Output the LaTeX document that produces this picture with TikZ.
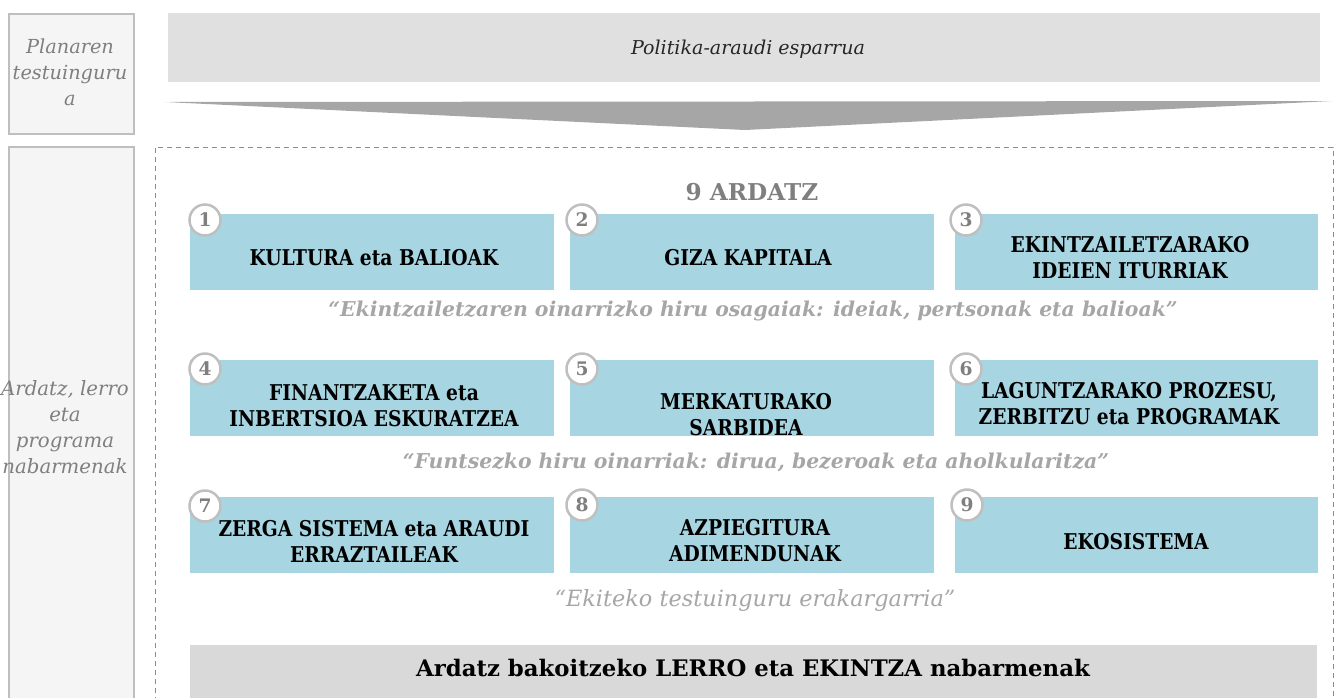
\documentclass[tikz,border=0pt]{standalone}
\usepackage{fontspec}
\setmainfont{DejaVu Serif}[FakeStretch=0.86]
\newfontfamily\plainserif{DejaVu Serif}
\usetikzlibrary{shapes.geometric}
\definecolor{ctxfill}{HTML}{F5F5F5}
\definecolor{ctxline}{HTML}{BFBFBF}
\definecolor{banner}{HTML}{E0E0E0}
\definecolor{chev}{HTML}{A6A6A6}
\definecolor{axis}{HTML}{A7D5E1}
\definecolor{frameline}{HTML}{8C8C8C}
\definecolor{quote}{HTML}{A6A6A6}
\definecolor{bottom}{HTML}{D9D9D9}
\definecolor{numtxt}{HTML}{7F7F7F}
\newdimen\pxu \pxu=0.75pt
\tikzset{
  ctxbox/.style={draw=ctxline, line width=2.2\pxu, fill=ctxfill, anchor=north west, inner sep=0pt},
  axisbox/.style={fill=axis, anchor=north west, inner sep=0pt, minimum width=364*\pxu, minimum height=76*\pxu},
  axistxt/.style={font=\bfseries\fontsize{16.3}{19.5}\selectfont, align=center, text=black, inner sep=0pt},
  numc/.style={circle, draw=ctxline, line width=2.5\pxu, fill=white, minimum size=31*\pxu, inner sep=0pt, text=numtxt, font=\plainserif\bfseries\fontsize{14}{14}\selectfont},
  quotetxt/.style={font=\plainserif\bfseries\itshape\fontsize{15.3}{18}\selectfont, text=quote, inner sep=0pt},
  ctxtxt/.style={font=\plainserif\itshape\fontsize{14.5}{19.5}\selectfont, text=numtxt, align=center, inner sep=0pt}
}
\begin{document}
\begin{tikzpicture}[x=0.75pt, y=-0.75pt]
\useasboundingbox (0,0) rectangle (1339,697);
% left context boxes
\node[ctxbox, minimum width=125*\pxu, minimum height=120*\pxu] (c1) at (8,13) {};
\node[ctxtxt] (c1t) at (70,72) {Planaren\\testuinguru\\a};
\node[ctxbox, minimum width=125*\pxu, minimum height=570*\pxu] (c2) at (8,146) {};
\node[ctxtxt, font=\plainserif\itshape\fontsize{14.8}{19.5}\selectfont] (c2t) at (65,427) {Ardatz, lerro\\eta\\programa\\nabarmenak};
% top banner
\node[fill=banner, anchor=north west, inner sep=0pt, minimum width=1152*\pxu, minimum height=69*\pxu] (ban) at (168,13) {};
\node[font=\plainserif\itshape\fontsize{14.3}{16}\selectfont, inner sep=0pt, text=black!85] (bant) at (748,49) {Politika-araudi esparrua};
% chevron
\coordinate (chl) at (165,102);
\coordinate (chr) at (1332,101);
\coordinate (cht) at (745,130);
\fill[chev] (chl) -- (chr) -- (cht) -- cycle;
% dashed frame
\draw[frameline, line width=1\pxu, dash pattern=on 5\pxu off 4\pxu] (155,720) -- (155,147) -- (1333,147) -- (1333,720);
% title
\node[font=\plainserif\bfseries\fontsize{17.4}{19}\selectfont, text=numtxt, inner sep=0pt] (title) at (752,192) {9 ARDATZ};
% row 1
\node[axisbox] (b1) at (190,214) {};
\node[axisbox] (b2) at (570,214) {};
\node[axisbox, minimum width=363*\pxu] (b3) at (955,214) {};
\node[axistxt] (t1) at (374,258) {KULTURA eta BALIOAK};
\node[axistxt] (t2) at (748,258) {GIZA KAPITALA};
\node[axistxt] (t3) at (1130,258) {EKINTZAILETZARAKO\\IDEIEN ITURRIAK};
\node[quotetxt] (q1) at (753,311) {“Ekintzailetzaren oinarrizko hiru osagaiak: ideiak, pertsonak eta balioak”};
% row 2
\node[axisbox] (b4) at (190,360) {};
\node[axisbox] (b5) at (570,360) {};
\node[axisbox, minimum width=363*\pxu] (b6) at (955,360) {};
\node[axistxt] (t4) at (374,406) {FINANTZAKETA eta\\INBERTSIOA ESKURATZEA};
\node[axistxt] (t5) at (746,415) {MERKATURAKO\\SARBIDEA};
\node[axistxt] (t6) at (1129,404) {LAGUNTZARAKO PROZESU,\\ZERBITZU eta PROGRAMAK};
\node[quotetxt] (q2) at (756,462) {“Funtsezko hiru oinarriak: dirua, bezeroak eta aholkularitza”};
% row 3
\node[axisbox] (b7) at (190,497) {};
\node[axisbox] (b8) at (570,497) {};
\node[axisbox, minimum width=363*\pxu] (b9) at (955,497) {};
\node[axistxt] (t7) at (374,541) {ZERGA SISTEMA eta ARAUDI\\ERRAZTAILEAK};
\node[axistxt] (t8) at (755,541) {AZPIEGITURA\\ADIMENDUNAK};
\node[axistxt] (t9) at (1136,542) {EKOSISTEMA};
\node[quotetxt, font=\plainserif\itshape\fontsize{16.8}{18}\selectfont] (q3) at (755,600) {“Ekiteko testuinguru erakargarria”};
% numbers
\node[numc] (n1) at (205,220) {1};
\node[numc] (n2) at (582,220) {2};
\node[numc] (n3) at (966,220) {3};
\node[numc] (n4) at (205,369) {4};
\node[numc] (n5) at (582,369) {5};
\node[numc] (n6) at (966,369) {6};
\node[numc] (n7) at (205,506) {7};
\node[numc] (n8) at (582,505) {8};
\node[numc] (n9) at (967,505) {9};
% bottom bar
\node[fill=bottom, anchor=north west, inner sep=0pt, minimum width=1127*\pxu, minimum height=60*\pxu] (bot) at (190,645) {};
\node[font=\plainserif\bfseries\fontsize{17.1}{19}\selectfont, inner sep=0pt] (bott) at (753,668) {Ardatz bakoitzeko LERRO eta EKINTZA nabarmenak};
\end{tikzpicture}
\end{document}
